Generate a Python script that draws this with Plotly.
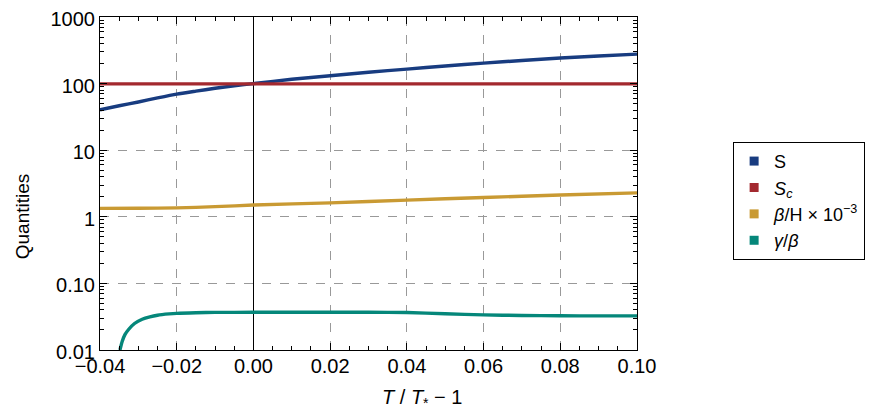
import plotly.graph_objects as go

# ---- data ----
s_x = [-0.04, -0.035, -0.03, -0.025, -0.02, -0.015, -0.01, -0.005, 0.0, 0.01, 0.02, 0.03, 0.04, 0.05, 0.06, 0.07, 0.08, 0.09, 0.10]
s_y = [40.4, 46.5, 53, 61, 69.5, 77, 85, 92.5, 100, 116, 131, 148, 165, 184, 203, 222, 242, 259, 277]

sc_x = [-0.04, 0.10]
sc_y = [99, 99]

bh_x = [-0.04, -0.03, -0.02, -0.01, 0.0, 0.02, 0.04, 0.06, 0.08, 0.10]
bh_y = [1.34, 1.345, 1.36, 1.42, 1.50, 1.62, 1.78, 1.95, 2.12, 2.29]

gb_x = [-0.0348, -0.0342, -0.0335, -0.0325, -0.031, -0.029, -0.027, -0.025, -0.022, -0.02, -0.015, -0.01, 0.0, 0.01, 0.02, 0.03, 0.04, 0.05, 0.06, 0.07, 0.08, 0.09, 0.10]
gb_y = [0.0100, 0.0135, 0.0170, 0.0205, 0.0250, 0.0290, 0.0315, 0.0333, 0.0348, 0.0355, 0.0363, 0.0367, 0.0368, 0.0368, 0.0368, 0.0368, 0.0365, 0.0350, 0.0337, 0.0330, 0.0326, 0.0325, 0.0325]

y_tickvals = [0.01, 0.1, 1, 10, 100, 1000]
y_ticktext = ["0.01", "0.10", "1", "10", "100", "1000"]
x_tickvals = [-0.04, -0.02, 0.0, 0.02, 0.04, 0.06, 0.08, 0.10]
x_ticktext = ["\u22120.04", "\u22120.02", "0.00", "0.02", "0.04", "0.06", "0.08", "0.10"]

names = ["S", "<i>S</i><sub><i>c</i></sub>", "<i>\u03b2</i>/H \u00d7 10<sup>\u22123</sup>", "<i>\u03b3</i>/<i>\u03b2</i>"]
colors = ["#183c80", "#a3292f", "#c99a33", "#05877a"]
series = [(s_x, s_y), (sc_x, sc_y), (bh_x, bh_y), (gb_x, gb_y)]

x_title = "<i>T</i> / <i>T</i><sub>*</sub> \u2212 1"
y_title = "Quantities"

fig = go.Figure()
for (xs, ys), c in zip(series, colors):
    fig.add_trace(go.Scatter(x=xs, y=ys, mode="lines", line=dict(color=c, width=3.4, shape="spline", smoothing=0.6),
                             showlegend=False, cliponaxis=True))
for n, c in zip(names, colors):
    fig.add_trace(go.Scatter(x=[None], y=[None], mode="markers", name=n,
                             marker=dict(symbol="square", size=9, color=c)))

font = "Liberation Sans, Arial, sans-serif"
fig.update_layout(
    width=867, height=408,
    margin=dict(l=92, r=238, t=9, b=66, autoexpand=False),
    paper_bgcolor="white", plot_bgcolor="white",
    font=dict(family=font, size=20, color="black"),
    legend=dict(x=1.179, y=0.625, xanchor="left", yanchor="top",
                bordercolor="black", borderwidth=1, font=dict(size=18),
                itemwidth=30, tracegroupgap=0),
    annotations=[
        dict(text=x_title, xref="paper", yref="paper", x=0.6, y=-0.147, xanchor="center", yanchor="middle",
             showarrow=False, font=dict(size=20)),
        dict(text=y_title, xref="paper", yref="paper", x=-0.145, y=0.402, xanchor="center", yanchor="middle",
             textangle=-90, showarrow=False, font=dict(size=19)),
    ],
)
fig.update_xaxes(
    range=[-0.04, 0.10], tickvals=x_tickvals, ticktext=x_ticktext, automargin=False,
    showgrid=True, gridcolor="#999999", griddash="dash", gridwidth=1,
    zeroline=True, zerolinecolor="black", zerolinewidth=1,
    showline=True, linecolor="black", linewidth=1, mirror="ticks",
    ticks="inside", ticklen=7, tickcolor="black", ticklabelstandoff=-2, ticklabeloverflow="allow",
    minor=dict(ticks="inside", ticklen=4, dtick=0.005, tickcolor="black", showgrid=False),
)
fig.update_yaxes(
    type="log", range=[-2, 3], tickvals=y_tickvals, ticktext=y_ticktext, automargin=False,
    showgrid=True, gridcolor="#999999", griddash="dash", gridwidth=1,
    showline=True, linecolor="black", linewidth=1, mirror="ticks",
    ticks="inside", ticklen=7, tickcolor="black", ticklabeloverflow="allow", ticklabelshift=2,
    minor=dict(ticks="inside", ticklen=4, dtick="D1", tickcolor="black", showgrid=False),
)
fig.write_html("out.html")
